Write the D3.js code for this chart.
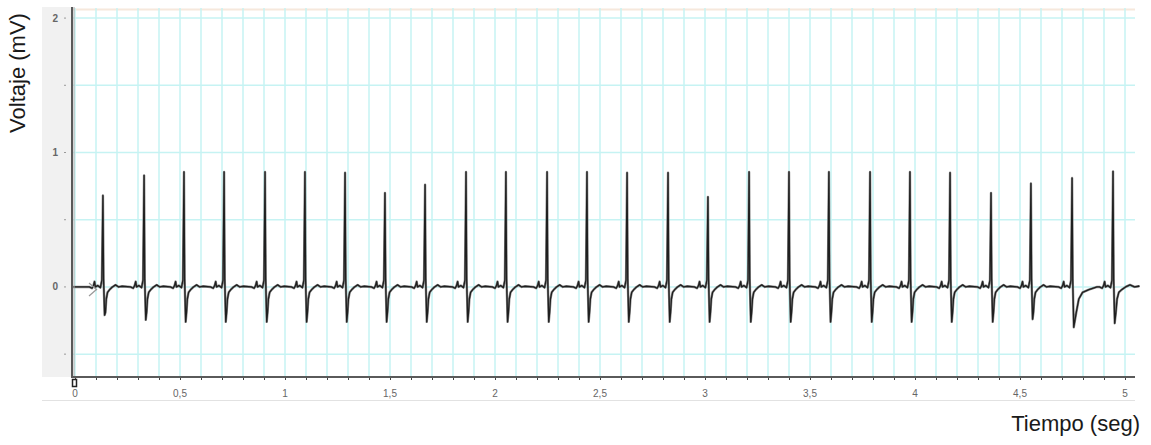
<!DOCTYPE html>
<html>
<head>
<meta charset="utf-8">
<script src="https://cdn.jsdelivr.net/npm/d3@7"></script>
<style>
  body { margin: 0; background: #fff; }
  svg { display: block; }
  .tick-label { font-family: "Liberation Sans", Arial, sans-serif; font-size: 10px; fill: #666; }
  .title { font-family: "Liberation Sans", Arial, sans-serif; font-size: 22px; fill: #1a1a1a; }
</style>
</head>
<body>
<div id="chart"></div>
<script>
// set up the image variables
let svgWidth = 1151;
let svgHeight = 445;

// R peak times (s), R peak height (mV), S nadir (mV), recovery stretch
let beatTimes = [0.133, 0.329, 0.519, 0.710, 0.905, 1.095, 1.286, 1.476, 1.667, 1.862,
    2.052, 2.248, 2.438, 2.629, 2.824, 3.014, 3.210, 3.400, 3.590, 3.786,
    3.976, 4.167, 4.362, 4.552, 4.748, 4.943];
let beatPeaks = [0.68, 0.83, 0.855, 0.855, 0.855, 0.855, 0.85, 0.70, 0.76, 0.855,
    0.855, 0.855, 0.855, 0.85, 0.85, 0.67, 0.855, 0.855, 0.855, 0.855,
    0.855, 0.85, 0.70, 0.77, 0.81, 0.86];
let beatNadirs = [-0.21, -0.245, -0.26, -0.26, -0.26, -0.26, -0.26, -0.26, -0.26, -0.26,
    -0.26, -0.26, -0.26, -0.26, -0.26, -0.26, -0.26, -0.26, -0.26, -0.26,
    -0.26, -0.26, -0.26, -0.24, -0.30, -0.27];
let beatRecovery = [1, 1, 1, 1, 1, 1, 1, 1, 1, 1, 1, 1, 1, 1, 1, 1, 1, 1, 1, 1,
    1, 1, 1, 1, 3, 1.4];

// shape of one beat (offset s, mV); 'R' / 'S' filled per beat
let shapeOffsets = [-0.065, -0.052, -0.045, -0.040, -0.036, -0.025, -0.012, -0.005, 0, 0.003, 0.008, 0.012, 0.016, 0.022, 0.032, 0.045, 0.060, 0.075, 0.090];
let shapeValues = [0.0, -0.01, 0.01, 0.04, 0.0, 0.01, -0.005, 0.05, 'R', 0.06, 'S', -0.19, -0.09, -0.04, -0.02, 0.0, 0.015, 0.0, 0.005];

// axis ticks
let xLabels = [0, 0.5, 1, 1.5, 2, 2.5, 3, 3.5, 4, 4.5, 5];
let yLabels = [0, 1, 2];
let yMinor = [-0.5, 0.5, 1.5];

let svg = d3.select('#chart')
    .append('svg')
    .attr('width', svgWidth)
    .attr('height', svgHeight);

let plot = {left: 72, right: 1135, top: 8, bottom: 377};

let xScale = d3.scaleLinear()
    .domain([0, 5])
    .range([75, 1125]);
let yScale = d3.scaleLinear()
    .domain([-0.67, 2.075])
    .range([plot.bottom, plot.top]);

// left label panel
svg.append('rect')
    .attr('x', 42).attr('y', 7)
    .attr('width', plot.left - 42).attr('height', plot.bottom - 7)
    .attr('fill', '#f1f1f1');
// bottom border line
svg.append('line')
    .attr('x1', 42).attr('x2', plot.right)
    .attr('y1', 400.5).attr('y2', 400.5)
    .attr('stroke', '#e2e2e2');

// plot background
svg.append('rect')
    .attr('x', plot.left).attr('y', plot.top)
    .attr('width', plot.right - plot.left).attr('height', plot.bottom - plot.top)
    .attr('fill', '#fff');

// grid
let grid = svg.append('g');
grid.append('line')
    .attr('x1', plot.left).attr('x2', plot.right)
    .attr('y1', 9.5).attr('y2', 9.5)
    .attr('stroke', '#f6e8dc').attr('stroke-width', 2);
grid.selectAll('.vgrid')
    .data(d3.range(0, 51).map(d => d / 10))
    .enter()
    .append('line')
    .attr('x1', d => xScale(d)).attr('x2', d => xScale(d))
    .attr('y1', plot.top).attr('y2', plot.bottom)
    .attr('stroke', '#c6f3f3').attr('stroke-width', 1.5);
grid.selectAll('.hgrid')
    .data([-0.5, 0, 0.5, 1, 1.5, 2])
    .enter()
    .append('line')
    .attr('x1', plot.left).attr('x2', plot.right)
    .attr('y1', d => yScale(d)).attr('y2', d => yScale(d))
    .attr('stroke', '#c6f3f3').attr('stroke-width', 1.5);

// build trace from the beats
let points = [[xScale.invert(plot.left), 0.0]];
beatTimes.forEach(function(t, i) {
    let nextStart = i < beatTimes.length - 1 ? beatTimes[i + 1] + shapeOffsets[0] : 99;
    let sIdx = shapeValues.indexOf('S');
    shapeOffsets.forEach(function(dt, k) {
        let v = shapeValues[k];
        if (v == 'R') v = beatPeaks[i];
        if (v == 'S') v = beatNadirs[i];
        let off = dt;
        if (k > sIdx) off = shapeOffsets[sIdx] + (dt - shapeOffsets[sIdx]) * beatRecovery[i];
        if (t + off < nextStart) points.push([t + off, v]);
    });
});
points.push([xScale.invert(plot.right), 0.0]);

let line = d3.line()
    .x(d => xScale(d[0]))
    .y(d => yScale(d[1]));

// lighter halo then dark trace, like the double-tone spikes
svg.append('path')
    .datum(points)
    .attr('d', line)
    .attr('fill', 'none')
    .attr('stroke', '#8a8a8a')
    .attr('stroke-width', 2.4)
    .attr('stroke-linejoin', 'round');
svg.append('path')
    .datum(points)
    .attr('d', line)
    .attr('fill', 'none')
    .attr('stroke', '#1f1f1f')
    .attr('stroke-width', 1.3)
    .attr('stroke-linejoin', 'round');

// cursor cross near start
svg.append('path')
    .attr('d', 'M89,283 L97,290 M89,296 L97,289')
    .attr('stroke', '#999').attr('fill', 'none').attr('stroke-width', 1.2);

// axes lines
svg.append('line')
    .attr('x1', plot.left).attr('x2', plot.left)
    .attr('y1', 7).attr('y2', plot.bottom + 1)
    .attr('stroke', '#5a5a5a').attr('stroke-width', 2);
svg.append('line')
    .attr('x1', plot.left + 2).attr('x2', plot.left + 2)
    .attr('y1', 7).attr('y2', plot.bottom)
    .attr('stroke', '#aaa').attr('stroke-width', 1);
svg.append('line')
    .attr('x1', plot.left).attr('x2', plot.right)
    .attr('y1', plot.bottom).attr('y2', plot.bottom)
    .attr('stroke', '#5a5a5a').attr('stroke-width', 2);

// x ticks
let xAxis = d3.axisBottom(xScale)
    .tickValues(d3.range(0, 51).map(d => d / 10))
    .tickSize(2)
    .tickFormat('');
let xg = svg.append('g')
    .attr('transform', `translate(0, ${plot.bottom + 1})`)
    .call(xAxis);
xg.select('.domain').remove();
xg.selectAll('line').attr('stroke', '#444');

svg.selectAll('.xlab')
    .data(xLabels)
    .enter()
    .append('text')
    .attr('class', 'tick-label')
    .attr('x', d => xScale(d))
    .attr('y', 397)
    .attr('text-anchor', 'middle')
    .text(d => String(d).replace('.', ','));

// small marker on origin
svg.append('rect')
    .attr('x', 72.5).attr('y', 379.5)
    .attr('width', 4).attr('height', 7)
    .attr('fill', 'none').attr('stroke', '#222').attr('stroke-width', 1.5);

// y ticks
svg.selectAll('.ylab')
    .data(yLabels)
    .enter()
    .append('text')
    .attr('class', 'tick-label')
    .attr('x', 58)
    .attr('y', d => yScale(d) + 3.5)
    .attr('text-anchor', 'end')
    .attr('font-weight', 'bold')
    .text(d => d);
svg.selectAll('.ytick')
    .data(yLabels.concat(yMinor))
    .enter()
    .append('line')
    .attr('x1', 64).attr('x2', 66)
    .attr('y1', d => yScale(d)).attr('y2', d => yScale(d))
    .attr('stroke', '#999');

// axis titles
svg.append('text')
    .attr('class', 'title')
    .attr('transform', 'translate(25, 73) rotate(-90)')
    .attr('text-anchor', 'middle')
    .text('Voltaje (mV)');
svg.append('text')
    .attr('class', 'title')
    .attr('x', 1140)
    .attr('y', 431)
    .attr('text-anchor', 'end')
    .text('Tiempo (seg)');
</script>
</body>
</html>
